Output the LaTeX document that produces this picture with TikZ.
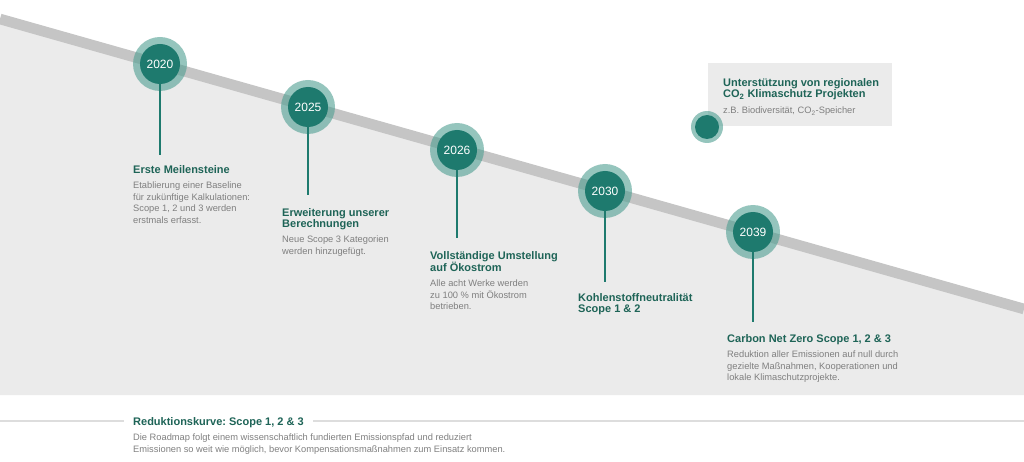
\documentclass[tikz,border=0pt]{standalone}
\usepackage{fontspec}
\setmainfont{Liberation Sans}
\frenchspacing
\definecolor{tealdark}{HTML}{1E7A6E}
\definecolor{ringc}{HTML}{4E9E91}
\definecolor{titlec}{HTML}{1E6457}
\definecolor{bodyc}{HTML}{7F7F7F}
\definecolor{bandc}{HTML}{C5C5C5}
\definecolor{areac}{HTML}{EBEBEB}
\definecolor{linec}{HTML}{DDDDDD}
\begin{document}
\begin{tikzpicture}[x=1pt,y=-1pt,
  ringnode/.style={circle, fill=ringc, fill opacity=0.6, minimum size=54pt, inner sep=0pt},
  year/.style={circle, fill=tealdark, text=white, minimum size=40pt, inner sep=0pt, font=\fontsize{12}{12}\selectfont},
  ringsmall/.style={circle, fill=ringc, fill opacity=0.6, minimum size=32pt, inner sep=0pt},
  yearsmall/.style={circle, fill=tealdark, minimum size=24pt, inner sep=0pt},
  stem/.style={draw=tealdark, line width=2.2pt},
  ttl/.style={anchor=north west, inner sep=0pt, align=left, text=titlec, font=\bfseries\fontsize{11}{11.5}\selectfont},
  bdy/.style={anchor=north west, inner sep=0pt, align=left, text=bodyc, font=\fontsize{9.3}{11.5}\selectfont}
]
\useasboundingbox (0,0) rectangle (1024,462);
% area below the reduction curve
\fill[areac] (0,19) -- (1024,309) -- (1024,395) -- (0,395) -- cycle;
% band
\draw[bandc, line width=10.6pt] (0,19) -- (1024,309);
% bottom separator line
\draw[linec, line width=1.5pt] (0,421) -- (1024,421);

% box top right
\node[fill=areac, minimum width=184pt, minimum height=63pt, anchor=north west, inner sep=0pt] (box) at (708,63) {};
\node[ttl] (tbox) at (723,78) {Unterstützung von regionalen\\CO\textsubscript{2} Klimaschutz Projekten};
\node[bdy] (bbox) at (723,106.7) {z.B. Biodiversität, CO\textsubscript{2}-Speicher};
\node[ringsmall] (rsm) at (707,127) {};
\node[yearsmall] (csm) at (707,127) {};

% milestones
\foreach \yr/\x/\y in {2020/160/64, 2025/308/107, 2026/457/150, 2030/605/191, 2039/753/232}{
  \node[ringnode] (r\yr) at (\x,\y) {};
  \node[year] (c\yr) at (\x,\y) {\yr};
}
\coordinate (e2020) at (160,155);
\coordinate (e2025) at (308,195);
\coordinate (e2026) at (457,238);
\coordinate (e2030) at (605,282);
\coordinate (e2039) at (753,322);
\foreach \yr in {2020,2025,2026,2030,2039}{
  \draw[stem] (c\yr.south) -- (e\yr);
}

\node[ttl] (t2020) at (133,165) {Erste Meilensteine};
\node[bdy] (b2020) at (133,181.7) {Etablierung einer Baseline\\für zukünftige Kalkulationen:\\Scope 1, 2 und 3 werden\\erstmals erfasst.};

\node[ttl] (t2025) at (282,208) {Erweiterung unserer\\Berechnungen};
\node[bdy] (b2025) at (282,235.7) {Neue Scope 3 Kategorien\\werden hinzugefügt.};

\node[ttl] (t2026) at (430,251) {Vollständige Umstellung\\auf Ökostrom};
\node[bdy] (b2026) at (430,279.7) {Alle acht Werke werden\\zu 100 \% mit Ökostrom\\betrieben.};

\node[ttl] (t2030) at (578,293) {Kohlenstoffneutralität\\Scope 1 \& 2};

\node[ttl] (t2039) at (727,334) {Carbon Net Zero Scope 1, 2 \& 3};
\node[bdy] (b2039) at (727,350.7) {Reduktion aller Emissionen auf null durch\\gezielte Maßnahmen, Kooperationen und\\lokale Klimaschutzprojekte.};

% bottom legend
\node[ttl, fill=white, inner xsep=9pt, inner ysep=1pt] (tred) at (124,416) {Reduktionskurve: Scope 1, 2 \& 3};
\node[bdy] (bred) at (133,433.7) {Die Roadmap folgt einem wissenschaftlich fundierten Emissionspfad und reduziert\\Emissionen so weit wie möglich, bevor Kompensationsmaßnahmen zum Einsatz kommen.};
\end{tikzpicture}
\end{document}
